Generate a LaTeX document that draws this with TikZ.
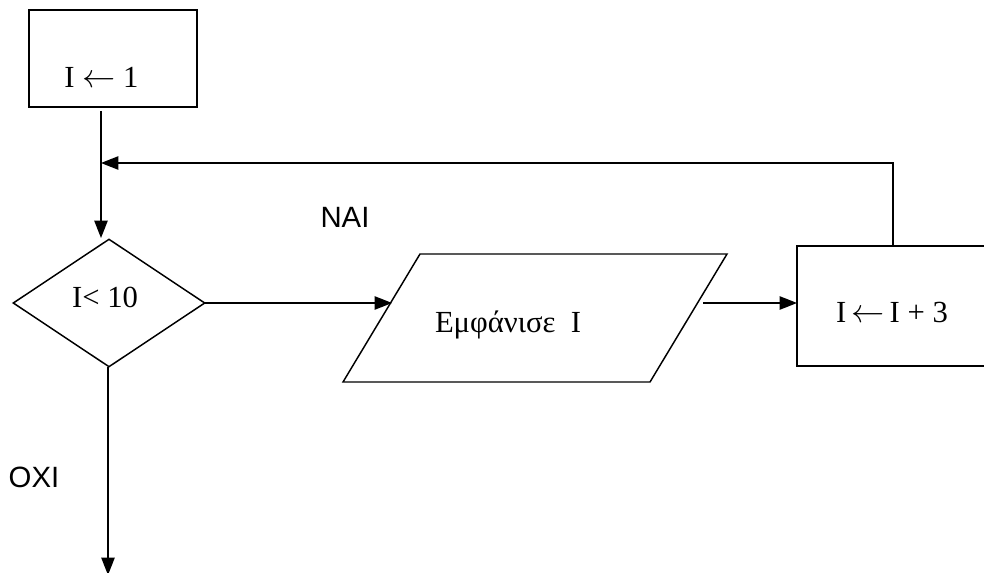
\documentclass[tikz,border=0pt]{standalone}
\usepackage{fontspec}
\setmainfont{Liberation Serif}
\setsansfont{Liberation Sans}
\usetikzlibrary{arrows.meta,shapes.geometric}
\tikzset{
  flow/.style={line width=1.1pt},
  arr/.style={flow,-{Triangle[length=13pt,width=10pt]}},
  box/.style={draw,line width=1.4pt,rectangle,inner sep=0pt},
  txt/.style={font=\fontsize{23}{26}\selectfont,anchor=base,inner sep=0pt},
  lbl/.style={font=\sffamily\fontsize{22}{25}\selectfont,anchor=base,inner sep=0pt},
}
\begin{document}
\begin{tikzpicture}[x=0.75pt,y=-0.75pt]
\useasboundingbox (0,0) rectangle (984,573);
\begin{scope}
\clip (0,0) rectangle (984,573);
% start box
\node[box,minimum width=126pt,minimum height=72.75pt] (b1) at (113,58.5) {};
\node[txt] (t1) at (101.5,88) {I $\leftarrow$ 1};
% decision
\node[draw,line width=1.1pt,diamond,minimum width=144pt,minimum height=96pt,inner sep=0pt] (d) at (109,303) {};
\node[txt] (td) at (105,307) {I< 10};
% output (parallelogram)
\coordinate (p1) at (420,254);
\coordinate (p2) at (727,254);
\coordinate (p3) at (650,382);
\coordinate (p4) at (343,382);
\draw[line width=1.1pt,line join=miter] (p1) -- (p2) -- (p3) -- (p4) -- cycle;
\node[txt] (tp) at (508,332) {Εμφάνισε\ \ I};
% increment box
\node[box,minimum width=147pt,minimum height=90pt] (b2) at (895,306) {};
\node[txt] (t2) at (892,323) {I\,$\leftarrow$\,I + 3};
% connector end points
\coordinate (s1) at (101,111);
\coordinate (s2) at (101,238);
\coordinate (j) at (101,163);
\coordinate (r1) at (205,303);
\coordinate (r2) at (392,303);
\coordinate (q1) at (703,303);
\coordinate (q2) at (797,303);
\coordinate (u1) at (893,246);
\coordinate (u2) at (893,163);
\coordinate (e1) at (108,367);
\coordinate (e2) at (108,575);
% connectors
\draw[arr] (s1) -- (s2);
\draw[arr] (u1) -- (u2) -- (j);
\draw[arr] (r1) -- (r2);
\draw[arr] (q1) -- (q2);
\draw[arr] (e1) -- (e2);
% branch labels
\node[lbl] (yes) at (345,228) {NAI};
\node[lbl] (no) at (34,487) {OXI};
\end{scope}
\end{tikzpicture}
\end{document}
